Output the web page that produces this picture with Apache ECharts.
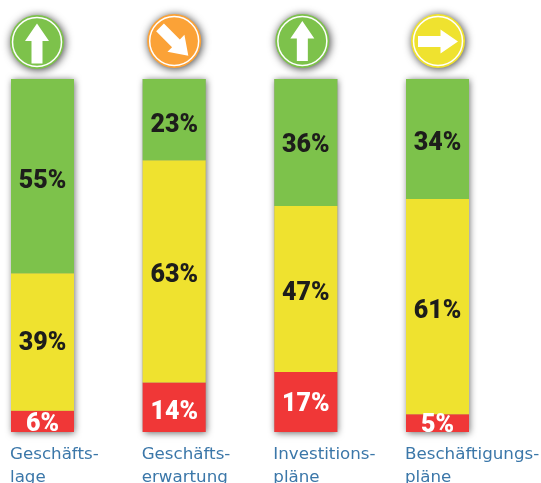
<!DOCTYPE html>
<html><head><meta charset="utf-8">
<style>html,body{margin:0;padding:0;background:#fff;overflow:hidden}#c{width:541px;height:483px}</style>
<script src="https://cdn.jsdelivr.net/npm/echarts@6/dist/echarts.min.js"></script>
</head><body><div id="c"></div>
<script>
const categories = ['Geschäfts-\nlage','Geschäfts-\nerwartung','Investitions-\npläne','Beschäftigungs-\npläne'];
const positive = [55,23,36,34];
const neutral = [39,63,47,61];
const negative = [6,14,17,5];
const trendColors = ['#7DC24B','#FBA237','#7DC24B','#EFE22F'];
const trendRotation = [0,-135,0,-90];
const iconOffsetX = [-5.5,0,-3.5,0.5];
const iconOffsetY = [-37,-38,-38,-38];
const arrowOffsetY = [-35.5,-37.5,-38,-37.5];
const positiveNudge = [6,6,3,5];
const neutralNudge = [2,4,5,5];
const negativeNudge = [3,5,3,3];
const GREEN='#7DC24B',YELLOW='#EFE22F',RED='#F03737',DARK='#1D1D1B';
const FONT='Roboto';
const barData=(vals,nudge)=>vals.map((v,i)=>({value:v,label:{offset:[0,nudge[i]]}}));
const barLabel=(color)=>({show:true,position:'inside',formatter:'{c}%',color,fontFamily:FONT,fontWeight:900,fontSize:25});
const chart=echarts.init(document.getElementById('c'),null,{renderer:'canvas'});
const arrowPath='path://M12 0 L24 17.5 L17.5 17.5 L17.5 40 L6.5 40 L6.5 17.5 L0 17.5 Z';
const iconData=(fn)=>categories.map((c,i)=>Object.assign({value:[i,100]},fn(i)));
chart.setOption({
  animation:false,
  grid:{left:-23.33,top:79,width:526.67,height:353,containLabel:false,outerBoundsMode:'none'},
  xAxis:{type:'category',data:categories,axisLine:{show:false},axisTick:{show:false},
    axisLabel:{show:true,interval:0,align:'left',margin:11,padding:[0,0,0,-32.5],color:'#3B77A9',fontFamily:'DejaVu Sans',fontSize:16.7,lineHeight:23}},
  yAxis:{type:'value',min:0,max:100,show:false},
  series:[
    {type:'bar',name:'negative',stack:'a',barWidth:63,data:barData(negative,negativeNudge),z:3,itemStyle:{color:RED},label:barLabel('#fff'),
     showBackground:true,backgroundStyle:{color:'#999',shadowBlur:7,shadowColor:'rgba(0,0,0,0.6)',shadowOffsetX:1,shadowOffsetY:1}},
    {type:'bar',name:'neutral',stack:'a',barWidth:63,data:barData(neutral,neutralNudge),z:3,itemStyle:{color:YELLOW},label:barLabel(DARK)},
    {type:'bar',name:'positive',stack:'a',barWidth:63,data:barData(positive,positiveNudge),z:3,itemStyle:{color:GREEN},label:barLabel(DARK)},
    {type:'scatter',name:'badge',clip:false,z:4,symbol:'circle',symbolSize:54,
     data:iconData(i=>({symbolOffset:[iconOffsetX[i],iconOffsetY[i]],itemStyle:{opacity:1,color:trendColors[i],shadowBlur:9,shadowColor:'rgba(0,0,0,0.75)',shadowOffsetX:1,shadowOffsetY:1}}))},
    {type:'scatter',name:'ring',clip:false,z:5,symbol:'circle',symbolSize:49,
     data:iconData(i=>({symbolOffset:[iconOffsetX[i],iconOffsetY[i]],itemStyle:{opacity:1,color:'rgba(0,0,0,0)',borderColor:'#fff',borderWidth:1.5}}))},
    {type:'scatter',name:'arrow',clip:false,z:6,symbol:arrowPath,symbolSize:[24,40],
     data:iconData(i=>({symbolRotate:trendRotation[i],symbolOffset:[iconOffsetX[i],arrowOffsetY[i]],itemStyle:{opacity:1,color:'#fff'}}))}
  ]
});
</script></body></html>
